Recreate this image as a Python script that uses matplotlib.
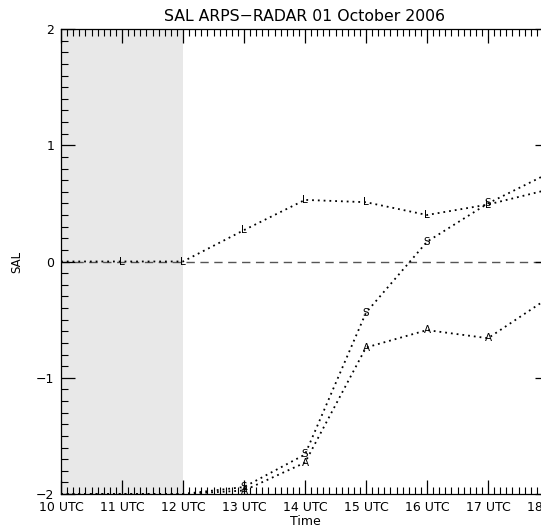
import matplotlib
matplotlib.use("Agg")
import matplotlib.pyplot as plt
from matplotlib.ticker import MultipleLocator

# hours (UTC) and SAL components
hours = [10, 11, 12, 13, 14, 15, 16, 17, 18]
sal_s = [-2.0, -2.0, -2.0, -1.94, -1.66, -0.44, 0.17, 0.50, 0.76]
sal_a = [-2.0, -2.0, -2.0, -1.97, -1.73, -0.74, -0.59, -0.66, -0.31]
sal_l = [0.0, 0.0, 0.0, 0.27, 0.53, 0.51, 0.40, 0.49, 0.62]
tick_labels = ["10 UTC", "11 UTC", "12 UTC", "13 UTC", "14 UTC",
               "15 UTC", "16 UTC", "17 UTC", "18 UTC"]
spinup = (10, 12)

fig = plt.figure(figsize=(5.41, 5.26), dpi=100)
ax = fig.add_axes([61/541, 1-494/526, (549-61)/541, (494-29)/526])

ax.axvspan(spinup[0], spinup[1], color="#e8e8e8", lw=0, zorder=0)
ax.axhline(0, color="#555555", ls=(0, (6, 4)), lw=1.0, zorder=1)

for vals, letter in [(sal_s, "S"), (sal_a, "A"), (sal_l, "L")]:
    ax.plot(hours, vals, color="black", ls=(0, (1, 2.2)), lw=1.3, zorder=2)
    for h, v in zip(hours, vals):
        # letters only where they fall inside the visible frame
        if 10 < h < 18 and v > -2:
            ax.text(h, v, letter, fontsize=7.5, ha="center", va="center",
                    color="black", zorder=3)

ax.set_xlim(10, 18)
ax.set_ylim(-2, 2)
ax.set_xticks(hours)
ax.set_xticklabels(tick_labels)
ax.set_yticks([-2, -1, 0, 1, 2])
ax.set_yticklabels(["\u22122", "\u22121", "0", "1", "2"])
ax.xaxis.set_minor_locator(MultipleLocator(0.1))
ax.yaxis.set_minor_locator(MultipleLocator(0.1))
ax.tick_params(which="both", direction="in", top=True, right=True,
               labelsize=9, pad=5)
ax.tick_params(which="major", length=10, width=0.9)
ax.tick_params(which="minor", length=5, width=0.8)
for s in ax.spines.values():
    s.set_linewidth(0.9)

ax.set_title("SAL ARPS\u2212RADAR 01 October 2006", fontsize=11.3, pad=6)
ax.set_xlabel("Time", fontsize=9, labelpad=1)
ax.set_ylabel("SAL", fontsize=8.5, labelpad=9)

fig.savefig("out.png", dpi=100)
